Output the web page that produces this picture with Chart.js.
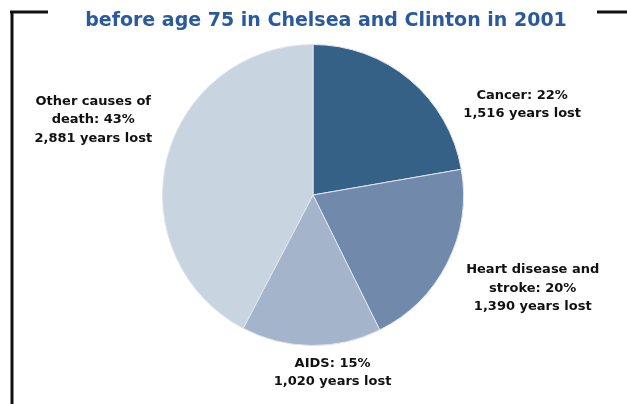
<!DOCTYPE html>
<html>
<head>
<meta charset="utf-8">
<script src="https://cdn.jsdelivr.net/npm/chart.js@4"></script>
<style>
  html,body{margin:0;padding:0;background:#fff;}
  #wrap{width:627px;height:404px;position:relative;}
</style>
</head>
<body>
<div id="wrap"><canvas id="ypll"></canvas></div>
<script>
// Years of potential life lost, by cause
const causes=["Cancer","Heart disease and stroke","AIDS","Other causes of death"];
const yearsLost=[1516,1390,1020,2881];
const percents=[22,20,15,43];
const sliceColors=["#346185","#718aab","#a4b4ca","#c9d4e1"];
const labelLines=[
  ["Cancer: 22%","1,516 years lost"],
  ["Heart disease and","stroke: 20%","1,390 years lost"],
  ["AIDS: 15%","1,020 years lost"],
  ["Other causes of","death: 43%","2,881 years lost"]
];
const titleText="before age 75 in Chelsea and Clinton in 2001";

// label anchor, in radii from the pie centre
const labelAnchor=[[1.39,-0.60],[1.46,0.62],[0.13,1.18],[-1.46,-0.50]];

const decor={
  id:'decor',
  afterDraw(chart){
    const c=chart.ctx;
    const arc=chart.getDatasetMeta(0).data[0];
    const cx=arc.x, cy=arc.y, r=arc.outerRadius;
    c.save();
    // frame
    c.strokeStyle='#111'; c.lineWidth=3;
    c.beginPath();
    c.moveTo(10,12); c.lineTo(48,12);
    c.moveTo(12,12); c.lineTo(12,404);
    c.moveTo(597,12); c.lineTo(627,12);
    c.stroke();
    // title
    c.fillStyle='#2b5a9c';
    c.font='bold 19px "DejaVu Sans"';
    c.textAlign='center'; c.textBaseline='alphabetic';
    c.fillText(titleText,cx+13,26);
    // slice labels
    c.fillStyle='#111';
    c.font='bold 13px "DejaVu Sans"';
    c.textBaseline='middle';
    labelLines.forEach((lines,i)=>{
      const x=cx+labelAnchor[i][0]*r, y=cy+labelAnchor[i][1]*r;
      const lh=18.5, y0=y-(lines.length-1)*lh/2;
      lines.forEach((t,j)=>c.fillText(t,x,y0+j*lh));
    });
    c.restore();
  }
};

new Chart(document.getElementById('ypll'),{
  type:'pie',
  data:{labels:causes,datasets:[{data:yearsLost,backgroundColor:sliceColors,
    borderColor:'#dfe5ee',borderWidth:1}]},
  options:{
    responsive:true,maintainAspectRatio:false,animation:false,
    layout:{padding:{top:44,bottom:58,left:10,right:11}},
    plugins:{legend:{display:false},tooltip:{enabled:false}},
    events:[]
  },
  plugins:[decor]
});
</script>
</body>
</html>
